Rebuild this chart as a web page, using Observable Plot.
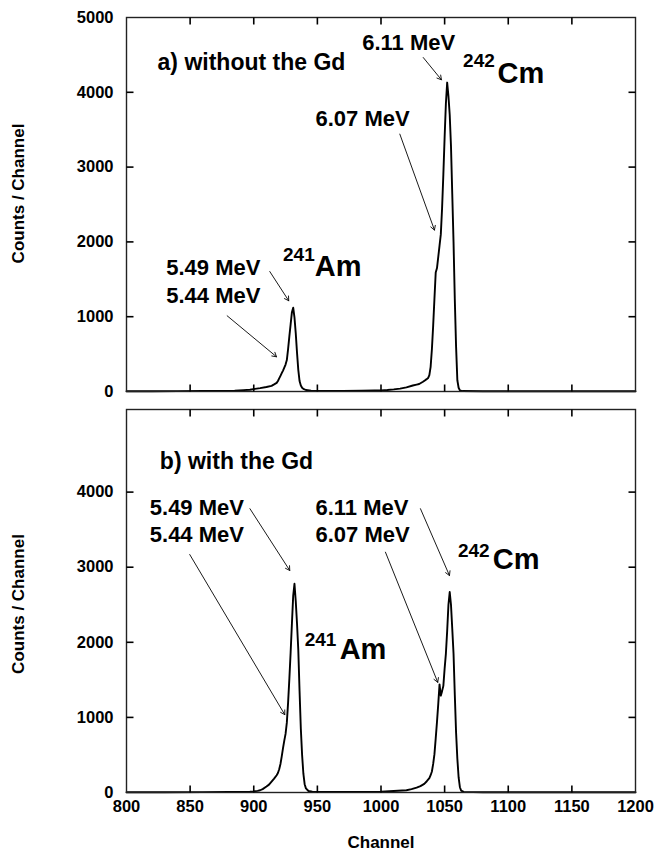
<!DOCTYPE html>
<html><head><meta charset="utf-8">
<script src="https://cdn.jsdelivr.net/npm/d3@7"></script>
<script src="https://cdn.jsdelivr.net/npm/@observablehq/plot@0.6"></script>
<style>
body{margin:0;background:#fff;}
#chart{width:655px;}
#chart svg{display:block;}
</style></head><body><div id="chart"></div>
<script>
// ---- Panel a) without the Gd ----
const channelsA = [800,820,840,860,875,885,892,897,901,905,910,914,916,918,919,920,921,922,923,924,925,926,927,928,929,930,931,932,933,934,935,936,937,938,939,941,945,955,970,985,995,1000,1005,1010,1015,1020,1025,1028,1030,1033,1035,1036,1037,1038,1039,1040,1041,1042,1043,1044,1045,1046,1047,1048,1049,1050,1051,1052,1053,1054,1055,1056,1057,1058,1059,1060,1061,1062,1064,1080,1120,1160,1200];
const countsA = [4,4,5,6,8,12,18,23,35,45,60,76,95,115,140,175,210,245,280,320,360,420,570,740,900,1060,1120,990,780,520,290,140,80,50,35,20,10,8,8,10,13,15,20,28,38,55,80,92,100,130,155,165,180,220,330,565,880,1240,1590,1650,1800,1950,2100,2450,2900,3400,3850,4130,3950,3700,3280,2640,2000,1230,600,150,50,15,6,3,3,3,3];

// ---- Panel b) with the Gd ----
const channelsB = [800,830,860,880,890,897,900,903,905,907,910,912,914,916,918,919,920,921,922,923,924,925,926,927,928,929,930,931,932,933,934,935,936,937,938,939,940,941,943,946,960,980,1000,1010,1020,1024,1028,1031,1034,1036,1038,1039,1040,1041,1042,1043,1044,1045,1046,1047,1048,1049,1050,1051,1052,1053,1054,1055,1056,1057,1058,1059,1060,1061,1062,1063,1065,1080,1120,1160,1200];
const countsB = [3,4,5,7,8,10,15,22,30,45,80,105,145,185,230,260,310,380,480,590,690,780,930,1200,1520,1870,2250,2620,2780,2550,2250,1900,1350,850,500,250,110,55,20,10,6,7,12,20,30,45,65,85,115,150,190,230,280,380,510,720,940,1180,1440,1290,1350,1420,1650,1850,2150,2500,2670,2500,2180,1850,1300,800,450,200,70,25,8,4,3,3,3];

// axis ticks
const xTickValues = [800,850,900,950,1000,1050,1100,1150,1200];
const xInnerTicks = [850,900,950,1000,1050,1100,1150];
const yTicksA = [0,1000,2000,3000,4000,5000];
const yTicksB = [0,1000,2000,3000,4000];
const yInnerTicks = [1000,2000,3000,4000];

// annotation texts
const titleA = "a) without the Gd";
const titleB = "b) with the Gd";
const yLabel = "Counts / Channel";
const xLabel = "Channel";

// labels: [text, channel, counts]
const labelsA = [
  ["6.11 MeV", 985.2, 4666],
  ["6.07 MeV", 948.5, 3646],
  ["5.49 MeV", 831.2, 1658],
  ["5.44 MeV", 831.2, 1279]
];
const labelsB = [
  ["5.49 MeV", 818.3, 3792],
  ["5.44 MeV", 818.3, 3423],
  ["6.11 MeV", 948.5, 3792],
  ["6.07 MeV", 948.5, 3423]
];
const titlePosA = [824.4, 4394];
const titlePosB = [826.2, 4400];
// isotope labels: [mass, symbol, supX, supBase, symX, symBase]
const isotopesA = [
  ["242", "Cm", 1064.5, 4332, 1091.5, 4131],
  ["241", "Am", 923.0, 1747, 948.0, 1547]
];
const isotopesB = [
  ["242", "Cm", 1060.5, 3133, 1087.8, 2979],
  ["241", "Am", 940.0, 1956, 967.5, 1779]
];
// arrows: [x1, y1, x2, y2]
const arrowsA = [
  [1033.2, 4465, 1047.5, 4167],
  [1014.8, 3441, 1042.0, 2158],
  [912.6, 1604, 927.5, 1213],
  [879.1, 1012, 917.9, 464]
];
const arrowsB = [
  [897.0, 3779, 928.3, 2956],
  [849.7, 3169, 924.4, 1036],
  [1031.0, 3779, 1053.8, 2889],
  [1003.5, 3200, 1044.6, 1467]
];

const FONT = "'Liberation Sans', Arial, Helvetica, sans-serif";
const W = 655, ML = 126, MR = 20, TICK = 7;
const X0 = 800, X1 = 1200;

function panel({channels, counts, yMax, yTicks, labels, title, titlePos, isotopes, arrows, height, marginTop, marginBottom, showXLabels, yLabelDy}) {
  const fw = W - ML - MR;
  const fh = height - marginTop - marginBottom;
  const tx = TICK * (X1 - X0) / fw;   // tick length in channel units
  const ty = TICK * yMax / fh;        // tick length in count units
  const data = channels.map((c, i) => ({ch: c, n: counts[i]}));
  const lbl = labels.map(([t, x, y]) => ({t, x, y}));
  const iso = isotopes.map(([m, s, sx, sy, x, y]) => ({m, s, sx, sy, x, y}));
  const arr = arrows.map(([x1, y1, x2, y2]) => ({x1, y1, x2, y2}));
  // inward tick segments on all four sides, as two-point polylines grouped by id
  const segs = [
    ...yInnerTicks.map(v => [[X0, v], [X0 + tx, v]]),
    ...yInnerTicks.map(v => [[X1, v], [X1 - tx, v]]),
    ...xInnerTicks.map(v => [[v, yMax], [v, yMax - ty]]),
    ...xInnerTicks.map(v => [[v, 0], [v, ty]])
  ];
  const tickPts = segs.flatMap((s, id) => s.map(([x, y]) => ({id, x, y})));
  const marks = [
    Plot.axisY({anchor: "left", ticks: yTicks, tickSize: 0, tickPadding: 13, tickFormat: d3.format("d"), label: null, fontSize: 16.5, fontWeight: "bold"}),
    showXLabels
      ? Plot.axisX({anchor: "bottom", ticks: xTickValues, tickSize: 0, tickPadding: 8, tickFormat: d3.format("d"), label: null, fontSize: 16.5, fontWeight: "bold"})
      : Plot.axisX({anchor: "bottom", ticks: xTickValues, tickSize: 0, tickFormat: () => "", label: null}),
    Plot.line(data, {x: "ch", y: "n", stroke: "#000", strokeWidth: 1.9, curve: "linear"}),
    Plot.arrow(arr, {x1: "x1", y1: "y1", x2: "x2", y2: "y2", stroke: "#000", strokeWidth: 0.9, headLength: 8}),
    Plot.text([title], {x: () => titlePos[0], y: () => titlePos[1], text: d => d, textAnchor: "start", lineAnchor: "middle", fontSize: 23, fontWeight: "bold", fill: "#000"}),
    Plot.text(lbl, {x: "x", y: "y", text: "t", textAnchor: "start", lineAnchor: "middle", fontSize: 22, fontWeight: "bold", fill: "#000"}),
    Plot.text(iso, {x: "sx", y: "sy", text: "m", textAnchor: "start", lineAnchor: "bottom", fontSize: 19, fontWeight: "bold", fill: "#000"}),
    Plot.text(iso, {x: "x", y: "y", text: "s", textAnchor: "start", lineAnchor: "bottom", fontSize: 29, fontWeight: "bold", fill: "#000"}),
    Plot.text([yLabel], {text: d => d, frameAnchor: "left", textAnchor: "middle", lineAnchor: "middle", dx: -108, dy: yLabelDy, rotate: -90, fontSize: 17, fontWeight: "bold", fill: "#000"}),
    Plot.frame({stroke: "#222", strokeWidth: 1.4}),
    Plot.line(tickPts, {x: "x", y: "y", z: "id", stroke: "#000", strokeWidth: 1.6, strokeLinecap: "butt"})
  ];
  if (showXLabels) {
    marks.push(Plot.text([xLabel], {text: d => d, frameAnchor: "bottom", textAnchor: "middle", dy: 55, fontSize: 17, fontWeight: "bold", fill: "#000"}));
  }
  return Plot.plot({
    width: W,
    height,
    marginLeft: ML,
    marginRight: MR,
    marginTop,
    marginBottom,
    style: {fontFamily: FONT, fontSize: "16.5px", fontWeight: "bold", color: "#000", background: "#fff", overflow: "visible"},
    x: {domain: [X0, X1]},
    y: {domain: [0, yMax]},
    marks
  });
}

const root = document.getElementById("chart");
root.appendChild(panel({channels: channelsA, counts: countsA, yMax: 5000, yTicks: yTicksA, labels: labelsA, title: titleA, titlePos: titlePosA, isotopes: isotopesA, arrows: arrowsA, height: 400, marginTop: 17, marginBottom: 9, showXLabels: false, yLabelDy: -11}));
root.appendChild(panel({channels: channelsB, counts: countsB, yMax: 5100, yTicks: yTicksB, labels: labelsB, title: titleB, titlePos: titlePosB, isotopes: isotopesB, arrows: arrowsB, height: 456, marginTop: 9, marginBottom: 64, showXLabels: true, yLabelDy: 3}));
</script>
</body></html>
